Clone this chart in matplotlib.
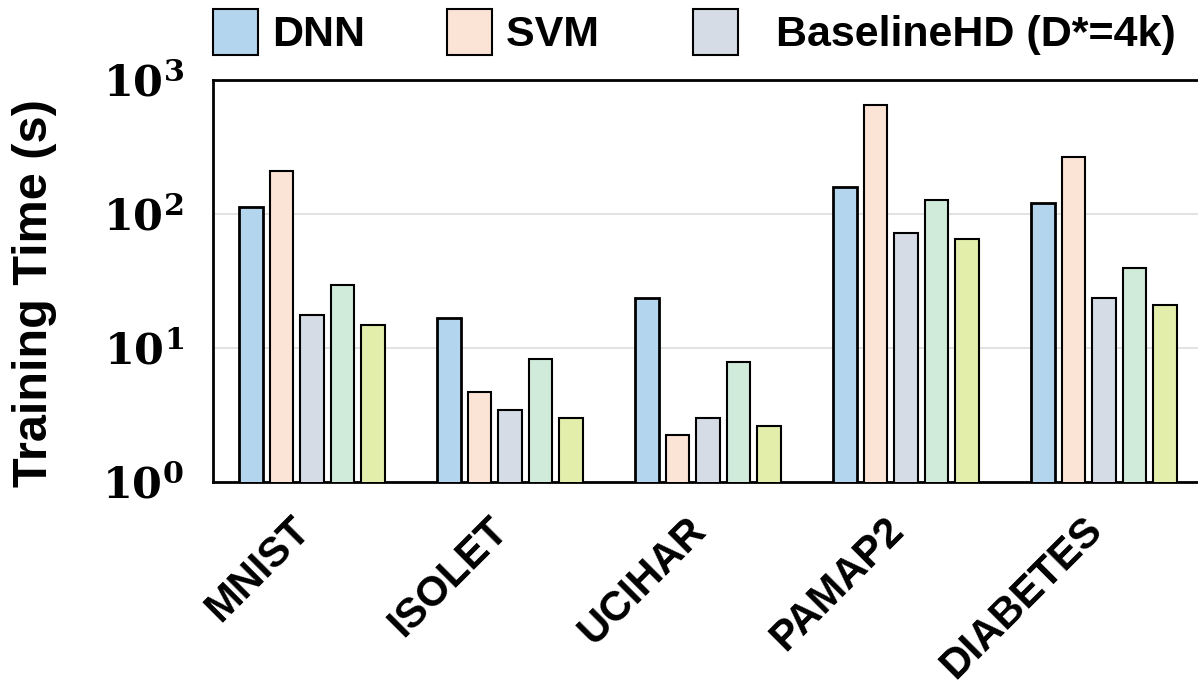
import numpy as np
import matplotlib
matplotlib.use('Agg')
import matplotlib.pyplot as plt
from matplotlib.patches import Patch
from matplotlib.ticker import FixedLocator, FuncFormatter, NullFormatter

plt.rcParams['font.family'] = ['Liberation Sans', 'DejaVu Sans']
plt.rcParams['font.weight'] = 'bold'
plt.rcParams['mathtext.fontset'] = 'dejavuserif'

# data (training time in seconds)
datasets = ['MNIST', 'ISOLET', 'UCIHAR', 'PAMAP2', 'DIABETES']
dnn = [113, 16.7, 23.5, 160, 120]
svm = [210, 4.72, 2.24, 654, 268]
baselinehd = [17.7, 3.46, 2.99, 72.6, 23.7]
series4 = [29.5, 8.28, 7.82, 127, 39.7]
series5 = [14.8, 3.02, 2.63, 64.7, 20.9]

labels = ['DNN', 'SVM ', '  BaselineHD (D*=4k)']
colors = ['#b3d5ed', '#fbe4d6', '#d5dce6', '#d1ebdb', '#e4eeab']
edge_w = [2.0, 1.5, 1.5, 1.5, 1.5]

fig = plt.figure(figsize=(11.98, 6.87), dpi=100)
ax = fig.add_axes([213/1198, 205/687, 990/1198, 402/687])

x = np.arange(len(datasets))
step = 0.154
width = 0.121
all_series = [dnn, svm, baselinehd, series4, series5]
for i in range(len(all_series)):
	ax.bar(x + (i - 2)*step, all_series[i], width, color=colors[i],
		edgecolor='black', linewidth=edge_w[i], zorder=3)

ax.set_yscale('log')
ax.set_ylim(1, 1000)
ax.set_xlim(-0.5, 4.5)
ax.yaxis.set_major_locator(FixedLocator([1, 10, 100, 1000]))
ax.yaxis.set_major_formatter(FuncFormatter(lambda v, p: r'$\mathbf{10^{%d}}$' % round(np.log10(v))))
ax.yaxis.set_minor_formatter(NullFormatter())
ax.tick_params(axis='y', which='major', length=0, pad=21, labelsize=31)
ax.tick_params(axis='y', which='minor', length=0)
ax.set_xticks(x)
ax.set_xticklabels(datasets, rotation=45, ha='right', fontsize=30, fontweight='bold')
ax.tick_params(axis='x', length=0, pad=20)
for lab in ax.get_xticklabels():
	lab.set_transform(lab.get_transform() + matplotlib.transforms.ScaledTranslation(6/100, 0, fig.dpi_scale_trans))

ax.yaxis.grid(True, color='#dddddd', linewidth=1.2, zorder=0)
ax.set_axisbelow(True)
for s in ['left', 'bottom', 'top']:
	ax.spines[s].set_linewidth(2)
ax.spines['right'].set_visible(False)

ax.set_ylabel('Training Time (s)', fontsize=35, fontweight='bold')
ax.yaxis.set_label_coords(-0.158, 0.47)

handles = [Patch(facecolor=colors[i], edgecolor='black', linewidth=1.5) for i in range(3)]
fig.legend(handles, labels, loc='upper left', bbox_to_anchor=(213/1198, 1 - 9/687),
	ncol=3, frameon=False, fontsize=31, handlelength=1.05, handleheight=1.25,
	handletextpad=0.32, columnspacing=1.9, borderpad=0, borderaxespad=0)

plt.savefig('out.png', dpi=100)
